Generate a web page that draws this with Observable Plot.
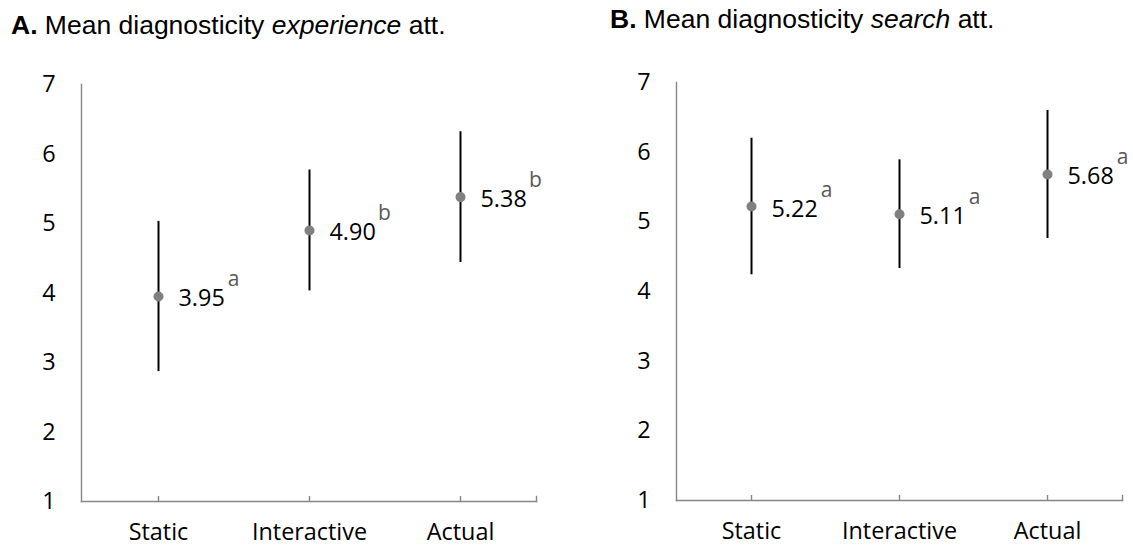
<!DOCTYPE html>
<html>
<head>
<meta charset="utf-8">
<script src="https://cdn.jsdelivr.net/npm/d3@7"></script>
<script src="https://cdn.jsdelivr.net/npm/@observablehq/plot@0.6"></script>
<style>
  html, body { margin: 0; padding: 0; background: #fff; }
  #wrap { position: relative; width: 1133px; height: 547px; overflow: hidden; background: #fff; }
  .title { position: absolute; font-family: "Liberation Sans", Arial, sans-serif; font-size: 26.5px; line-height: 26px; color: #000; white-space: nowrap; }
  .panel { position: absolute; top: 0; }
</style>
</head>
<body>
<div id="wrap">
  <div class="title" style="left:11px; top:12px;"><b>A.</b> Mean diagnosticity <i>experience</i> att.</div>
  <div class="title" style="left:610px; top:6px;"><b>B.</b> Mean diagnosticity <i>search</i> att.</div>
  <div class="panel" id="pA" style="left:0px;"></div>
  <div class="panel" id="pB" style="left:566px;"></div>
</div>
<script>
// ---- data ----
const categories = ["Static", "Interactive", "Actual"];
const yTicks = [1, 2, 3, 4, 5, 6, 7];

const meanA = [3.95, 4.90, 5.38];
const sdA = [1.08, 0.87, 0.94];
const letterA = ["a", "b", "b"];

const meanB = [5.22, 5.11, 5.68];
const sdB = [0.98, 0.78, 0.92];
const letterB = ["a", "a", "a"];

function rows(mean, sd, letters) {
  return categories.map((c, i) => ({cat: c, mean: mean[i], lo: mean[i] - sd[i], hi: mean[i] + sd[i], letter: letters[i]}));
}

const FONT = "'Open Sans', sans-serif";

function panel(data, opts) {
  return Plot.plot({
    width: opts.width,
    height: 547,
    marginLeft: opts.marginLeft,
    marginRight: opts.marginRight,
    marginTop: opts.marginTop,
    marginBottom: opts.marginBottom,
    style: {fontFamily: FONT, color: "#000", background: "transparent", overflow: "visible"},
    x: {type: "point", domain: categories, padding: 0.5, label: null},
    y: {domain: [yTicks[0], yTicks[yTicks.length - 1]], label: null},
    marks: [
      Plot.frame({anchor: "left", stroke: "#868686", strokeWidth: 1.4}),
      Plot.frame({anchor: "bottom", stroke: "#868686", strokeWidth: 1.4}),
      Plot.frame({anchor: "right", stroke: "#868686", strokeWidth: 1.4, insetTop: 547 - opts.marginTop - opts.marginBottom - 5}),
      Plot.ruleX(categories, {x: d => d, y1: () => yTicks[0], y2: () => yTicks[0], insetTop: -5, stroke: "#868686", strokeWidth: 1.4}),
      Plot.axisY({ticks: yTicks, tickSize: 0, tickPadding: 26, fontSize: 23.4, label: null, tickFormat: d => d}),
      Plot.axisX({tickSize: 0, tickPadding: 22, fontSize: 23.4, label: null}),
      Plot.ruleX(data, {x: "cat", y1: "lo", y2: "hi", stroke: "#000", strokeWidth: 2}),
      Plot.dot(data, {x: "cat", y: "mean", r: 5, fill: "#808080", stroke: null}),
      Plot.text(data, {x: "cat", y: "mean", text: d => d.mean.toFixed(2), dx: 20, dy: 2.5, textAnchor: "start", fontSize: 23.4, fill: "#000"}),
      Plot.text(data, {x: "cat", y: "mean", text: "letter", dx: 75, dy: -10, lineAnchor: "bottom", textAnchor: "middle", fontSize: 21, fill: "#595959"})
    ]
  });
}

document.getElementById("pA").append(panel(rows(meanA, sdA, letterA), {width: 566, marginLeft: 81, marginRight: 30, marginTop: 84, marginBottom: 46}));
document.getElementById("pB").append(panel(rows(meanB, sdB, letterB), {width: 567, marginLeft: 110, marginRight: 11, marginTop: 82, marginBottom: 47}));
</script>
</body>
</html>
